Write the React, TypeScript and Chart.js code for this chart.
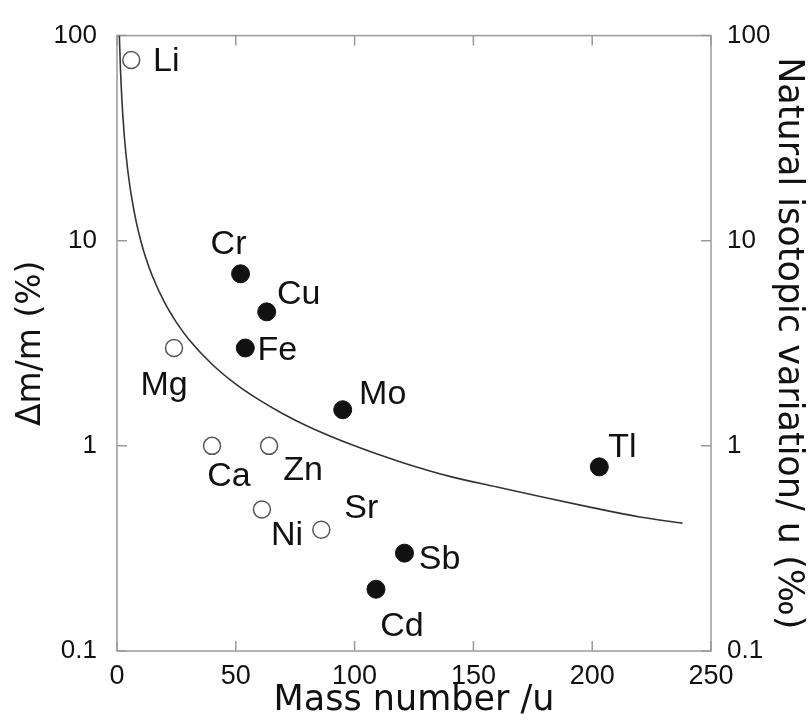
import React, { useEffect, useRef } from 'react';
import { Chart, registerables } from 'chart.js';

Chart.register(...registerables);

// ---- data ----
const openElements = ['Li', 'Mg', 'Ca', 'Zn', 'Ni', 'Sr'];
const openMass = [6, 24, 40, 64, 61, 86];
const openVariation = [76, 3.0, 1.0, 1.0, 0.49, 0.39];

const filledElements = ['Cr', 'Cu', 'Fe', 'Mo', 'Tl', 'Sb', 'Cd'];
const filledMass = [52, 63, 54, 95, 203, 121, 109];
const filledVariation = [6.9, 4.5, 3.0, 1.5, 0.79, 0.3, 0.2];

const curveMass = [1, 1.5, 2, 3, 4, 5, 6, 8, 10, 12, 15, 20, 25, 30, 40, 50, 60, 70, 80, 100, 120, 140, 160, 180, 200, 220, 238];
const curveDelta = [100, 66.7, 50, 33.3, 25, 20, 16.7, 12.5, 10, 8.33, 6.67, 5, 4, 3.33, 2.5, 2, 1.67, 1.43, 1.25, 1, 0.83, 0.71, 0.63, 0.56, 0.5, 0.45, 0.42];

const xTickValues = [0, 50, 100, 150, 200, 250];
const yTickValues = [0.1, 1, 10, 100];

const xTitle = 'Mass number /u';
const yTitle = 'Δm/m (%)';
const y2Title = 'Natural isotopic variation/ u (‰)';

// ---- label placement (pixel offsets of label centre from its marker) ----
const labelOffsets: Record<string, [number, number]> = {
  Li: [35, 2],
  Mg: [-10, 38],
  Ca: [17, 31],
  Zn: [34, 25],
  Ni: [25, 26],
  Sr: [40, -21],
  Cr: [-12, -29],
  Cu: [32, -17],
  Fe: [32, 3],
  Mo: [40, -15],
  Tl: [23, -19],
  Sb: [35, 6],
  Cd: [26, 37],
};

const FONT = '"Liberation Sans", Arial, Helvetica, sans-serif';
const TITLE_FONT = '"DejaVu Sans", "Liberation Sans", Arial, sans-serif';
const AXIS_GRAY = '#9a9a9a';

const framePlugin = {
  id: 'frameTicks',
  beforeDatasetsDraw(chart: any) {
    const { ctx, chartArea } = chart;
    const { left, right, top, bottom } = chartArea;
    const xs = chart.scales.x;
    const ys = chart.scales.y;
    ctx.save();
    ctx.strokeStyle = AXIS_GRAY;
    ctx.lineWidth = 1.5;
    ctx.strokeRect(left, top, right - left, bottom - top);
    ctx.beginPath();
    xTickValues.forEach((v) => {
      const px = xs.getPixelForValue(v);
      ctx.moveTo(px, bottom);
      ctx.lineTo(px, bottom - 10);
      ctx.moveTo(px, top);
      ctx.lineTo(px, top + 10);
    });
    yTickValues.forEach((v) => {
      const py = ys.getPixelForValue(v);
      ctx.moveTo(left, py);
      ctx.lineTo(left + 10, py);
      ctx.moveTo(right, py);
      ctx.lineTo(right - 10, py);
    });
    ctx.stroke();
    ctx.restore();
  },
};

const labelPlugin = {
  id: 'pointLabels',
  afterDatasetsDraw(chart: any) {
    const { ctx } = chart;
    ctx.save();
    ctx.font = `34px ${FONT}`;
    ctx.fillStyle = '#111';
    ctx.textAlign = 'center';
    ctx.textBaseline = 'middle';
    const groups: [number, string[]][] = [
      [0, openElements],
      [1, filledElements],
    ];
    groups.forEach(([di, names]) => {
      const meta = chart.getDatasetMeta(di);
      meta.data.forEach((pt: any, i: number) => {
        const name = names[i];
        const off = labelOffsets[name] || [0, 0];
        ctx.fillText(name, pt.x + off[0], pt.y + off[1]);
      });
    });
    ctx.restore();
  },
};

const keepDecades = (scale: any) => {
  scale.ticks = yTickValues.map((v) => ({ value: v }));
};

export default function App() {
  const canvasRef = useRef<HTMLCanvasElement | null>(null);

  useEffect(() => {
    const canvas = canvasRef.current;
    if (!canvas) return;
    const chart = new Chart(canvas, {
      type: 'scatter',
      data: {
        datasets: [
          {
            label: 'open',
            data: openMass.map((m, i) => ({ x: m, y: openVariation[i] })),
            pointRadius: 8.5,
            pointBackgroundColor: '#ffffff',
            pointBorderColor: '#555555',
            pointBorderWidth: 1.5,
            showLine: false,
          },
          {
            label: 'filled',
            data: filledMass.map((m, i) => ({ x: m, y: filledVariation[i] })),
            pointRadius: 9,
            pointBackgroundColor: '#111111',
            pointBorderColor: '#111111',
            pointBorderWidth: 1,
            showLine: false,
          },
          {
            label: 'curve',
            data: curveMass.map((m, i) => ({ x: m, y: curveDelta[i] })),
            showLine: true,
            pointRadius: 0,
            borderColor: '#333333',
            borderWidth: 1.6,
            cubicInterpolationMode: 'monotone',
            fill: false,
          } as any,
        ],
      },
      options: {
        responsive: false,
        animation: false,
        events: [],
        layout: { padding: { top: 27, left: 0, right: 0, bottom: 0 } },
        plugins: {
          legend: { display: false },
          tooltip: { enabled: false },
        },
        scales: {
          x: {
            type: 'linear',
            position: 'bottom',
            min: 0,
            max: 250,
            afterBuildTicks: (scale: any) => {
              scale.ticks = xTickValues.map((v) => ({ value: v }));
            },
            afterFit: (scale: any) => {
              scale.height = 73;
            },
            grid: { display: false, drawTicks: false },
            border: { display: false },
            ticks: {
              color: '#111',
              padding: 9,
              maxRotation: 0,
              autoSkip: false,
              font: { family: FONT, size: 27 },
              callback: (v: any) => String(v),
            },
            title: {
              display: true,
              text: xTitle,
              color: '#111',
              padding: { top: 0, bottom: 2 },
              font: { family: TITLE_FONT, size: 35 },
            },
          },
          y: {
            type: 'logarithmic',
            position: 'left',
            min: 0.1,
            max: 100,
            afterBuildTicks: keepDecades,
            afterFit: (scale: any) => {
              scale.width = 117;
            },
            grid: { display: false, drawTicks: false },
            border: { display: false },
            ticks: {
              color: '#111',
              padding: 20,
              autoSkip: false,
              font: { family: FONT, size: 26 },
              callback: (v: any) => String(v),
            },
            title: {
              display: true,
              text: yTitle,
              color: '#111',
              padding: { top: 12, bottom: 0 },
              font: { family: TITLE_FONT, size: 33 },
            },
          },
          y2: {
            type: 'logarithmic',
            position: 'right',
            min: 0.1,
            max: 100,
            afterBuildTicks: keepDecades,
            afterFit: (scale: any) => {
              scale.width = 99;
            },
            grid: { display: false, drawTicks: false },
            border: { display: false },
            ticks: {
              color: '#111',
              padding: 16,
              autoSkip: false,
              font: { family: FONT, size: 26 },
              callback: (v: any) => String(v),
            },
            title: {
              display: true,
              text: y2Title,
              color: '#111',
              padding: { top: 1, bottom: 0 },
              font: { family: TITLE_FONT, size: 35 },
            },
          },
        },
      },
      plugins: [framePlugin, labelPlugin],
    } as any);
    return () => chart.destroy();
  }, []);

  return (
    <div style={{ position: 'absolute', left: 0, top: 0, width: 810, height: 724, background: '#fff' }}>
      <canvas ref={canvasRef} width={810} height={724} style={{ display: 'block' }} />
    </div>
  );
}
